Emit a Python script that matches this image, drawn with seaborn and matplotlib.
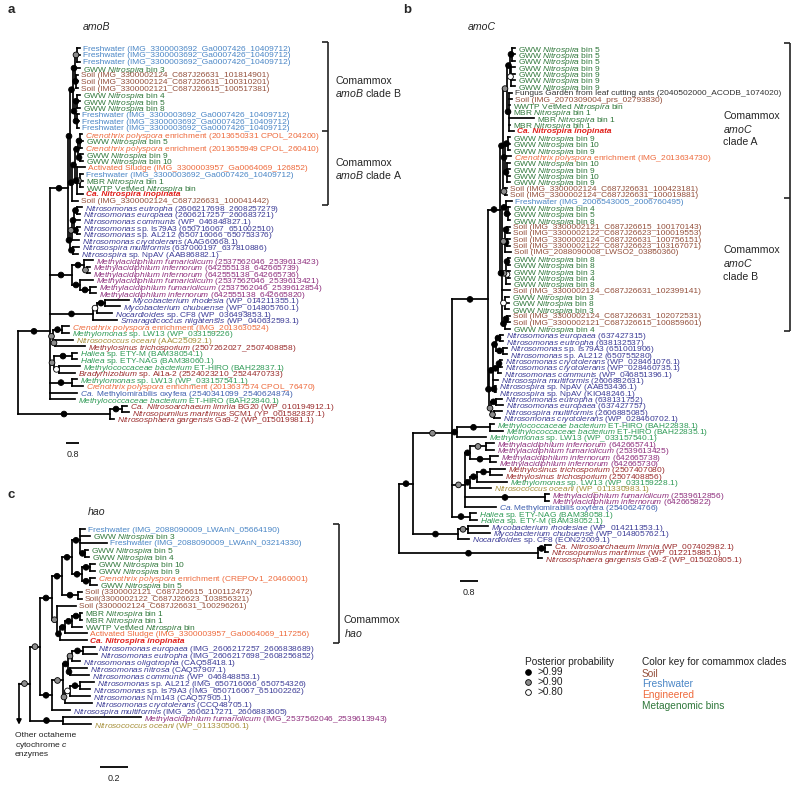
import numpy as np
import pandas as pd
import matplotlib
matplotlib.use("Agg")
import matplotlib.pyplot as plt
import seaborn as sns
from matplotlib.collections import LineCollection

sns.set_theme(style="white")
plt.rcParams['font.family'] = ['Liberation Sans', 'DejaVu Sans']
plt.rcParams['mathtext.fontset'] = 'custom'
plt.rcParams['mathtext.rm'] = 'Liberation Sans'
plt.rcParams['mathtext.it'] = 'Liberation Sans:italic'
plt.rcParams['mathtext.bf'] = 'Liberation Sans:bold'

# ---------------- colours ----------------
PALETTE = {
    'fw': '#4a86c6', 'soil': '#94503c', 'eng': '#ee6a3c', 'bin': '#2f773a',
    'inop': '#e0201b', 'nsm': '#3b3b96', 'mac': '#8d2d7c', 'dred': '#9a2b2b',
    'mgreen': '#2e9a55', 'noc': '#a68f38', 'mmir': '#3d5eae', 'fungus': '#333333',
}
SUPPORT_COLORS = {99: 'black', 90: '#8c8c8c', 80: 'white'}

# ---------------- panel a : amoB ----------------
A_LABELS = (
    ["Freshwater (IMG_3300003692_Ga0007426_10409712)"] * 3 +
    ["GWW *Nitrospira* bin 3",
     "Soil (IMG_3300002124_C687J26631_101814901)",
     "Soil (IMG_3300002124_C687J26631_100310201)",
     "Soil (IMG_3300002121_C687J26615_100517381)",
     "GWW *Nitrospira* bin 4", "GWW *Nitrospira* bin 5", "GWW *Nitrospira* bin 8"] +
    ["Freshwater (IMG_3300003692_Ga0007426_10409712)"] * 3 +
    ["*Crenothrix polyspora* enrichment (2013650331 CPOL_204200)",
     "GWW *Nitrospira* bin 5",
     "*Crenothrix polyspora* enrichment (2013655949 CPOL_260410)",
     "GWW *Nitrospira* bin 9", "GWW *Nitrospira* bin 10",
     "Activated Sludge (IMG_3300003957_Ga0064069_126852)",
     "Freshwater (IMG_3300003692_Ga0007426_10409712)",
     "MBR *Nitrospira* bin 1", "WWTP VetMed *Nitrospira* bin",
     "Ca. Nitrospira inopinata",
     "Soil (IMG_3300002124_C687J26631_100041442)",
     "*Nitrosomonas eutropha* (2606217698_2608257279)",
     "*Nitrosomonas europaea* (2606217257_260683721)",
     "*Nitrosomonas communis* (WP_046848827.1)",
     "*Nitrosomonas* sp. Is79A3 (650716067_651002510)",
     "*Nitrosomonas* sp. AL212 (650716066_650753376)",
     "*Nitrosomonas cryotolerans* (AAG60668.1)",
     "*Nitrosospira multiformis* (637000197_637810886)",
     "*Nitrosospira* sp. NpAV (AAB86882.1)",
     "*Methylacidiphilum fumariolicum* (2537562046_2539613423)",
     "*Methylacidiphilum infernorum* (642555138_642665739)",
     "*Methylacidiphilum infernorum* (642555138_642665736)",
     "*Methylacidiphilum fumariolicum* (2537562046_2539613421)",
     "*Methylacidiphilum fumariolicum* (2537562046_2539612854)",
     "*Methylacidiphilum infernorum* (642555138_642665820)",
     "*Mycobacterium rhodesia* (WP_014211355.1)",
     "*Mycobacterium chubuense* (WP_014805760.1)",
     "*Nocardioides* sp. CF8 (WP_036493853.1)",
     "*Smaragdicoccus niigatensis* (WP_040632593.1)",
     "*Crenothrix polyspora* enrichment (IMG_2013630524)",
     "*Methylomonas* sp. LW13 (WP_033159226)",
     "*Nitrosococcus oceani* (AAC25092.1)",
     "*Methylosinus trichosporium* (2507262027_2507408858)",
     "*Haliea* sp. ETY-M (BAM38054.1)",
     "*Haliea* sp. ETY-NAG (BAM38060.1)",
     "*Methylococcaceae bacterium* ET-HIRO (BAH22837.1)",
     "*Bradyrhizobium* sp. Ai1a-2 (2524023210_2524470733)",
     "*Methylomonas* sp. LW13 (WP_033157541.1)",
     "*Crenothrix polyspora* enrichment (2013637574 CPOL_76470)",
     "*Ca.* Methylomirabilis oxyfera (2540341099_2540624874)",
     "*Methylococcaceae bacterium* ET-HIRO (BAH22840.1)",
     "*Ca. Nitrosoarchaeum limnia* BG20 (WP_010194912.1)",
     "*Nitrosopumilus maritimus* SCM1 (YP_001582837.1)",
     "*Nitrososphaera gargensis* Ga9-2 (WP_015019981.1)"])
A_COLORS = (['fw'] * 3 + ['bin'] + ['soil'] * 3 + ['bin'] * 3 + ['fw'] * 3 +
            ['eng', 'bin', 'eng', 'bin', 'bin', 'eng', 'fw', 'bin', 'bin', 'inop', 'soil'] +
            ['nsm'] * 8 + ['mac'] * 6 + ['nsm'] * 4 +
            ['eng', 'mgreen', 'noc', 'dred', 'mgreen', 'mgreen', 'mgreen', 'dred',
             'mgreen', 'eng', 'mmir', 'mgreen', 'dred', 'dred', 'dred'])
# newick pieces: branch lengths in scale-bar units x (13/0.8), support 99/90/80
A_CB = ("(((1:3,2:3,3:3)90:2,4:5,(5:2,6:2,7:2)99:1)99:2,"
        "((8:3,9:3,10:3)99:2,(11:2,12:2,13:2)99:2)99:2)99:3")
A_CA = ("((((14:2,15:3,16:2)99:2,(17:3,18:3)99:2)99:3,"
        "(19:8,(20:3,21:3,22:3)90:3,23:6)99:2)99:3,24:6)99:2")
A_NSM = "((((25:5,26:3)99:3,27:6,(28:3,29:3)99:3)99:2,30:7)90:2,(31:6,32:5)99:3)99:2"
A_MAC = "((33:9,(34:3,35:3)90:3)99:12,(36:13,(37:6,38:6)99:10)99:8)99:22"
A_MYC = "(((39:24,40:15)99:8,41:15)80:4,42:24)99:43"
A_MET = "((43:7,44:7)99:9,(45:18,46:30)90:2)90:3,((47:5,48:5)99:18,(49:21,50:16)80:5)90:4,(51:5,52:11)99:22,53:27,54:25"
A_OUT = "((55:5,56:7)99:12,57:4)99:92"
A_TREE = ("((((" + A_CB + "," + A_CA + ")99:2," + A_NSM + ")99:18," + A_MAC + "," +
          A_MYC + "," + A_MET + ")99:32," + A_OUT + ")")

# ---------------- panel b : amoC ----------------
B_LABELS = (
    ["GWW *Nitrospira* bin 5"] * 3 + ["GWW *Nitrospira* bin 9"] * 4 +
    ["Fungus Garden from leaf cutting ants (2040502000_ACODB_1074020)",
     "Soil (IMG_2070309004_prs_02793830)",
     "WWTP VetMed *Nitrospira* bin"] +
    ["MBR *Nitrospira* bin 1"] * 3 +
    ["Ca. Nitrospira inopinata",
     "GWW *Nitrospira* bin 9", "GWW *Nitrospira* bin 10", "GWW *Nitrospira* bin 9",
     "*Crenothrix polyspora* enrichment (IMG_2013634730)",
     "GWW *Nitrospira* bin 10", "GWW *Nitrospira* bin 9",
     "GWW *Nitrospira* bin 10", "GWW *Nitrospira* bin 9",
     "Soil (IMG_3300002124_C687J26631_100423181)",
     "Soil (IMG_3300002124_C687J26631_100019881)",
     "Freshwater (IMG_2006543005_2006760495)",
     "GWW *Nitrospira* bin 4", "GWW *Nitrospira* bin 5", "GWW *Nitrospira* bin 8",
     "Soil (IMG_3300002121_C687J26615_100170143)",
     "Soil (IMG_3300002122_C687J26623_100019553)",
     "Soil (IMG_3300002124_C687J26631_100756151)",
     "Soil (IMG_3300002122_C687J26623_103167071)",
     "Soil (IMG_2088090008_LWSO2_03860360)",
     "GWW *Nitrospira* bin 8", "GWW *Nitrospira* bin 8", "GWW *Nitrospira* bin 3",
     "GWW *Nitrospira* bin 4", "GWW *Nitrospira* bin 8",
     "Soil (IMG_3300002124_C687J26631_102399141)",
     "GWW *Nitrospira* bin 3", "GWW *Nitrospira* bin 8", "GWW *Nitrospira* bin 3",
     "Soil (IMG_3300002124_C687J26631_102072531)",
     "Soil (IMG_3300002121_C687J26615_100859601)",
     "GWW *Nitrospira* bin 4",
     "*Nitrosomonas europaea* (637427315)",
     "*Nitrosomonas eutropha* (638132537)",
     "*Nitrosomonas* sp. Is79A3 (651001906)",
     "*Nitrosomonas* sp. AL212 (650755280)",
     "*Nitrosomonas cryotolerans* (WP_028461076.1)",
     "*Nitrosomonas cryotolerans* (WP_028460735.1)",
     "*Nitrosomonas communis* (WP_046851396.1)",
     "*Nitrosospira multiformis* (2606882631)",
     "*Nitrosospira* sp. NpAV (AAB53436.1)",
     "*Nitrosospira* sp. NpAV (KIO48246.1)",
     "*Nitrosomonas eutropha* (638131752)",
     "*Nitrosomonas europaea* (637427757)",
     "*Nitrosospira multiformis* (2606885085)",
     "*Nitrosomonas cryotolerans* (WP_028460702.1)",
     "*Methylococcaceae bacterium* ET-HIRO (BAH22838.1)",
     "*Methylococcaceae bacterium* ET-HIRO (BAH22835.1)",
     "*Methylomonas* sp. LW13 (WP_033157540.1)",
     "*Methylacidiphilum infernorum* (642665741)",
     "*Methylacidiphilum fumariolicum* (2539613425)",
     "*Methylacidiphilum infernorum* (642665738)",
     "*Methylacidiphilum infernorum* (642665730)",
     "*Methylosinus trichosporium* (2507407080)",
     "*Methylosinus trichosporium* (2507408856)",
     "*Methylomonas* sp. LW13 (WP_033159228.1)",
     "*Nitrosococcus oceani* (WP_011330983.1)",
     "*Methylacidiphilum fumariolicum* (2539612856)",
     "*Methylacidiphilum infernorum* (642665822)",
     "*Ca.*Methylomirabilis oxyfera (2540624766)",
     "*Haliea* sp. ETY-NAG (BAM38058.1)",
     "*Haliea* sp. ETY-M (BAM38052.1)",
     "*Mycobacterium rhodesiae* (WP_014211353.1)",
     "*Mycobacterium chubuense* (WP_014805762.1)",
     "*Nocardioides* sp. CF8 (EON22009.1)",
     "*Ca. Nitrosoarchaeum limnia* (WP_007402982.1)",
     "*Nitrosopumilus maritimus* (WP_012215885.1)",
     "*Nitrososphaera gargensis* Ga9-2 (WP_015020805.1)"])
B_COLORS = (['bin'] * 7 +
            ['fungus', 'soil', 'bin', 'bin', 'bin', 'bin', 'inop', 'bin', 'bin', 'bin', 'eng',
             'bin', 'bin', 'bin', 'bin', 'soil', 'soil', 'fw', 'bin', 'bin', 'bin'] +
            ['soil'] * 5 + ['bin'] * 5 + ['soil'] + ['bin'] * 3 + ['soil', 'soil', 'bin'] +
            ['nsm'] * 14 + ['mgreen'] * 3 + ['mac'] * 4 +
            ['dred', 'dred', 'mgreen', 'noc', 'mac', 'mac', 'mmir', 'mgreen', 'mgreen',
             'nsm', 'nsm', 'nsm', 'dred', 'dred', 'dred'])
B_CA = ("((((1:3,2:3,3:3)99:2,(4:4,5:4,6:4,7:4)80:1)99:3,"
        "(8:3,9:3,10:1,11:1,12:25,13:1,14:5)99:2)90:4,"
        "((15:2,16:2,17:2)99:3,18:6,(19:3,20:3,21:3,22:3)99:2)99:2,"
        "(23:2,24:2)90:2)99:3")
B_CB = ("((25:6,(26:2,27:2,28:2)99:2)99:4,((29:3,30:3)99:2,(31:3,32:3)99:2,33:6)90:3,"
        "((34:2,35:2)99:2,(36:2,37:2)80:2,38:4)90:4,39:8,(40:4,41:4,42:4)80:3,"
        "((43:3,44:3)99:2,45:5)99:3)99:2")
B_NSM = ("((((46:3,47:3)99:4,(48:4,49:4)99:7)99:3,((50:2,51:2)99:2,52:3)99:5,53:5,"
         "(54:1,55:1)99:2)99:4,((56:6,57:7)99:5,(58:8,59:6)90:3)90:2)99:1")
B_MCC = "((60:4,61:13)99:33,62:29)99:5"
B_MT = ("(((63:8,64:8)90:16,(65:8,66:6)99:20)99:5,(((67:15,68:12)99:13,69:30)99:7,70:21)99:5,"
        "(71:4,72:4)99:80,73:31)90:13")
B_HAL = "(74:6,75:7)99:18"
B_MYC = "((76:20,77:22)90:10,78:11)99:45"
B_OUT = "((79:6,80:3)99:7,81:4)99:139"
B_TREE = ("(((((" + B_CA + "," + B_CB + ")99:12," + B_NSM + ")99:36," + B_MCC + "," + B_MT +
          "," + B_HAL + ")90:39," + B_MYC + ")99:14," + B_OUT + ")")

# ---------------- panel c : hao ----------------
C_LABELS = [
    "Freshwater (IMG_2088090009_LWAnN_05664190)",
    "GWW *Nitrospira* bin 3",
    "Freshwater (IMG_2088090009_LWAnN_03214330)",
    "GWW *Nitrospira* bin 5", "GWW *Nitrospira* bin 4",
    "GWW *Nitrospira* bin 10", "GWW *Nitrospira* bin 9",
    "*Crenothrix polyspora* enrichment (CREPOv1_20460001)",
    "GWW *Nitrospira* bin 5",
    "Soil (3300002121_C687J26615_100112472)",
    "Soil(3300002122_C687J26623_103856321)",
    "Soil (3300002124_C687J26631_100296261)",
    "MBR *Nitrospira* bin 1", "MBR *Nitrospira* bin 1",
    "WWTP VetMed *Nitrospira* bin",
    "Activated Sludge (IMG_3300003957_Ga0064069_117256)",
    "Ca. Nitrospira inopinata",
    "*Nitrosomonas europaea* (IMG_2606217257_2606838689)",
    "*Nitrosomonas eutropha* (IMG_2606217698_2608256852)",
    "*Nitrosomonas oligotropha* (CAQ58418.1)",
    "*Nitrosomonas nitrosa* (CAQ57907.1)",
    "*Nitrosomonas communis* (WP_046848853.1)",
    "*Nitrosomonas* sp. AL212 (IMG_650716066_650754326)",
    "*Nitrosomonas* sp. Is79A3 (IMG_650716067_651002262)",
    "*Nitrosomonas* Nm143 (CAQ57905.1)",
    "*Nitrosomonas cryotolerans* (CCQ48705.1)",
    "*Nitrosospira multiformis* (IMG_2606217271_2606883605)",
    "*Methylacidiphilum fumariolicum* (IMG_2537562046_2539613943)",
    "*Nitrosococcus oceani* (WP_011330506.1)",
]
C_COLORS = (['fw', 'bin', 'fw', 'bin', 'bin', 'bin', 'bin', 'eng', 'bin', 'soil', 'soil', 'soil',
             'bin', 'bin', 'bin', 'eng', 'inop'] + ['nsm'] * 10 + ['mac', 'noc'])
C_COM = ("((((1:5,2:10,3:27,(4:3,5:4)99:5)99:8,((6:5,7:5)99:8,(8:5,9:7)99:8)99:10)99:10,"
         "(10:4,11:4)99:16)99:10,"
         "(12:19,((((13:2,14:2)99:8,15:10)99:7,16:22)99:5,17:27)99:3)90:5)99:12")
C_NSM = ("(((((18:12,19:14)99:11,20:8)90:4,(21:17,22:19)99:2)99:5,"
         "(((23:14,24:10)99:10,25:20)80:5,26:27)90:2)90:11,27:18)99:12")
C_PAIR = "(28:78,29:28)99:33"
C_TREE = "((" + C_COM + "," + C_NSM + ")90:10," + C_PAIR + ")90:11"

SCALE_A, SCALE_B, SCALE_C = 0.8, 0.8, 0.2


# ---------------- helpers ----------------
def parse_newick(s):
    s = s.replace(" ", "")
    pos = [0]

    def read():
        node = {"children": [], "leaf": None, "sup": None, "bl": 0.0}
        if s[pos[0]] == "(":
            pos[0] += 1
            node["children"].append(read())
            while s[pos[0]] == ",":
                pos[0] += 1
                node["children"].append(read())
            pos[0] += 1
        j = pos[0]
        while pos[0] < len(s) and s[pos[0]] not in ":,)":
            pos[0] += 1
        tok = s[j:pos[0]]
        if node["children"]:
            node["sup"] = int(tok) if tok else None
        else:
            node["leaf"] = int(tok)
        if pos[0] < len(s) and s[pos[0]] == ":":
            pos[0] += 1
            j = pos[0]
            while pos[0] < len(s) and s[pos[0]] not in ",)":
                pos[0] += 1
            node["bl"] = float(s[j:pos[0]])
        return node
    return read()


def layout(node, xp, unit, segs, dots, tips):
    x = xp + node["bl"] / unit
    if node["children"]:
        ys = [layout(c, x, unit, segs, dots, tips) for c in node["children"]]
        y = float(np.mean(ys))
        segs.append([(x, min(ys)), (x, max(ys))])
    else:
        y = node["leaf"] - 1
        tips.append((node["leaf"], x, y))
    if node["bl"] > 0:
        segs.append([(xp, y), (x, y)])
    if node["sup"]:
        dots.append(((xp + x) / 2, y, node["sup"]))
    return y


def fmt(s):
    parts = s.split("*")
    out = ""
    for i, p in enumerate(parts):
        if i % 2 == 1 and p:
            out += r"$\mathit{" + p.replace(" ", r"\ ") + "}$"
        else:
            out += p
    return out


W, H = 800, 793
fig = plt.figure(figsize=(8, 7.93), dpi=100, facecolor='white')
ov = fig.add_axes([0, 0, 1, 1])
ov.set_xlim(0, W)
ov.set_ylim(H, 0)
ov.axis('off')


def draw_tree(tree, labels, colors, unit, x0, ytop, ybot, width=330):
    n = len(labels)
    ax = fig.add_axes([x0 / W, 1 - ybot / H, width / W, (ybot - ytop) / H])
    root = parse_newick(tree)
    segs, dots, tips = [], [], []
    ry = layout(root, 0.0, unit, segs, dots, tips)
    ax.add_collection(LineCollection(segs, colors='black', linewidths=1.25,
                                     capstyle='projecting', clip_on=False, zorder=2))
    df = pd.DataFrame(dots, columns=['x', 'y', 'sup'])
    sns.scatterplot(data=df, x='x', y='y', hue='sup', palette=SUPPORT_COLORS,
                    edgecolor='black', linewidth=0.6, s=17, legend=False, ax=ax,
                    zorder=5, clip_on=False)
    for leaf, x, y in tips:
        lab, code = labels[leaf - 1], colors[leaf - 1]
        if code == 'inop':
            ax.annotate(lab, (x, y), xytext=(2.2, 0), textcoords='offset points',
                        ha='left', va='center_baseline', fontsize=6.0,
                        color=PALETTE[code], fontweight='bold', fontstyle='italic',
                        annotation_clip=False)
        else:
            ax.annotate(fmt(lab), (x, y), xytext=(2.2, 0), textcoords='offset points',
                        ha='left', va='center_baseline', fontsize=6.0,
                        color=PALETTE[code], annotation_clip=False)
    ax.set_xlim(0, width / unit)
    ax.set_ylim(n - 1, 0)
    ax.axis('off')
    return ax, ry


def scalebar(ax, unit, x0, ytop, ybot, n, bx, by, value):
    xs = (bx - x0) / unit
    yl = (by - ytop) / (ybot - ytop) * (n - 1)
    ax.plot([xs, xs + value], [yl, yl], color='black', lw=1.3, clip_on=False,
            solid_capstyle='butt')
    ax.annotate(f"{value}", (xs + value / 2, yl), xytext=(0, -5), textcoords='offset points',
                ha='center', va='top', fontsize=6.5, color='#222222', annotation_clip=False)


def bracket(x, ys, tick=6):
    ov.plot([x, x], [ys[0], ys[-1]], color='#222222', lw=1.2, solid_capstyle='butt')
    for y in ys:
        ov.plot([x - tick, x], [y, y], color='#222222', lw=1.2, solid_capstyle='butt')


# panel a
axa, _ = draw_tree(A_TREE, A_LABELS, A_COLORS, 13 / SCALE_A, 18, 48.3, 419.0)
scalebar(axa, 13 / SCALE_A, 18, 48.3, 419.0, len(A_LABELS), 66, 443, SCALE_A)
# panel b
axb, _ = draw_tree(B_TREE, B_LABELS, B_COLORS, 18 / SCALE_B, 399, 48.0, 558.0)
scalebar(axb, 18 / SCALE_B, 399, 48.0, 558.0, len(B_LABELS), 460, 581, SCALE_B)
# panel c
axc, ry = draw_tree(C_TREE, C_LABELS, C_COLORS, 28 / SCALE_C, 19, 529.0, 724.0)
scalebar(axc, 28 / SCALE_C, 19, 529.0, 724.0, len(C_LABELS), 100, 767, SCALE_C)
axc.annotate('', xy=(0, len(C_LABELS) - 0.9), xytext=(0, ry),
             arrowprops=dict(arrowstyle='-|>', color='black', lw=1.2, mutation_scale=7,
                             shrinkA=0, shrinkB=0), annotation_clip=False)

# panel letters and titles
ov.text(8, 10, "a", fontsize=9.5, fontweight='bold', va='center', ha='left')
ov.text(403, 10, "b", fontsize=9.5, fontweight='bold', va='center', ha='left')
ov.text(8, 495, "c", fontsize=9.5, fontweight='bold', va='center', ha='left')
ov.text(83, 27, "amoB", fontsize=7.6, fontstyle='italic', va='center', ha='left')
ov.text(468, 27, "amoC", fontsize=7.6, fontstyle='italic', va='center', ha='left')
ov.text(88, 512, "hao", fontsize=7.6, fontstyle='italic', va='center', ha='left')

# clade brackets
bracket(328, [42, 131, 205])
ov.text(335, 81, "Comammox", fontsize=7.6, va='center', ha='left')
ov.text(335, 93, r"$\mathit{amoB}$ clade B", fontsize=7.6, va='center', ha='left')
ov.text(335, 163, "Comammox", fontsize=7.6, va='center', ha='left')
ov.text(335, 175, r"$\mathit{amoB}$ clade A", fontsize=7.6, va='center', ha='left')

bracket(790, [43, 198, 331])
ov.text(723, 116, "Comammox", fontsize=7.6, va='center', ha='left')
ov.text(723, 129, r"$\mathit{amoC}$", fontsize=7.6, va='center', ha='left')
ov.text(723, 142, "clade A", fontsize=7.6, va='center', ha='left')
ov.text(723, 250, "Comammox", fontsize=7.6, va='center', ha='left')
ov.text(723, 263, r"$\mathit{amoC}$", fontsize=7.6, va='center', ha='left')
ov.text(723, 277, "clade B", fontsize=7.6, va='center', ha='left')

bracket(339, [524, 643])
ov.text(344, 620, "Comammox", fontsize=7.6, va='center', ha='left')
ov.text(344, 633, r"$\mathit{hao}$", fontsize=7.6, va='center', ha='left')

ov.text(15, 732, "Other octaheme\ncytochrome $\\mathit{c}$\nenzymes", fontsize=6.1,
        va='top', ha='left', color='#222222', linespacing=1.1)

# legends
ov.text(525, 662, "Posterior probability", fontsize=7.3, va='center', ha='left', color='#222222')
for yy, lab, sup in [(672, ">0.99", 99), (682, ">0.90", 90), (692, ">0.80", 80)]:
    ov.scatter([528], [yy], s=17, color=SUPPORT_COLORS[sup], edgecolors='black', linewidths=0.6)
    ov.text(537, yy, lab, fontsize=7.3, va='center', ha='left', color='#222222')
ov.text(642, 662, "Color key for comammox clades", fontsize=7.3, va='center', ha='left',
        color='#222222')
for yy, lab, code in [(674, "Soil", 'soil'), (684, "Freshwater", 'fw'),
                      (695, "Engineered", 'eng'), (706, "Metagenomic bins", 'bin')]:
    ov.text(642, yy, lab, fontsize=7.3, va='center', ha='left', color=PALETTE[code])

fig.savefig("out.png", dpi=100, facecolor='white')
